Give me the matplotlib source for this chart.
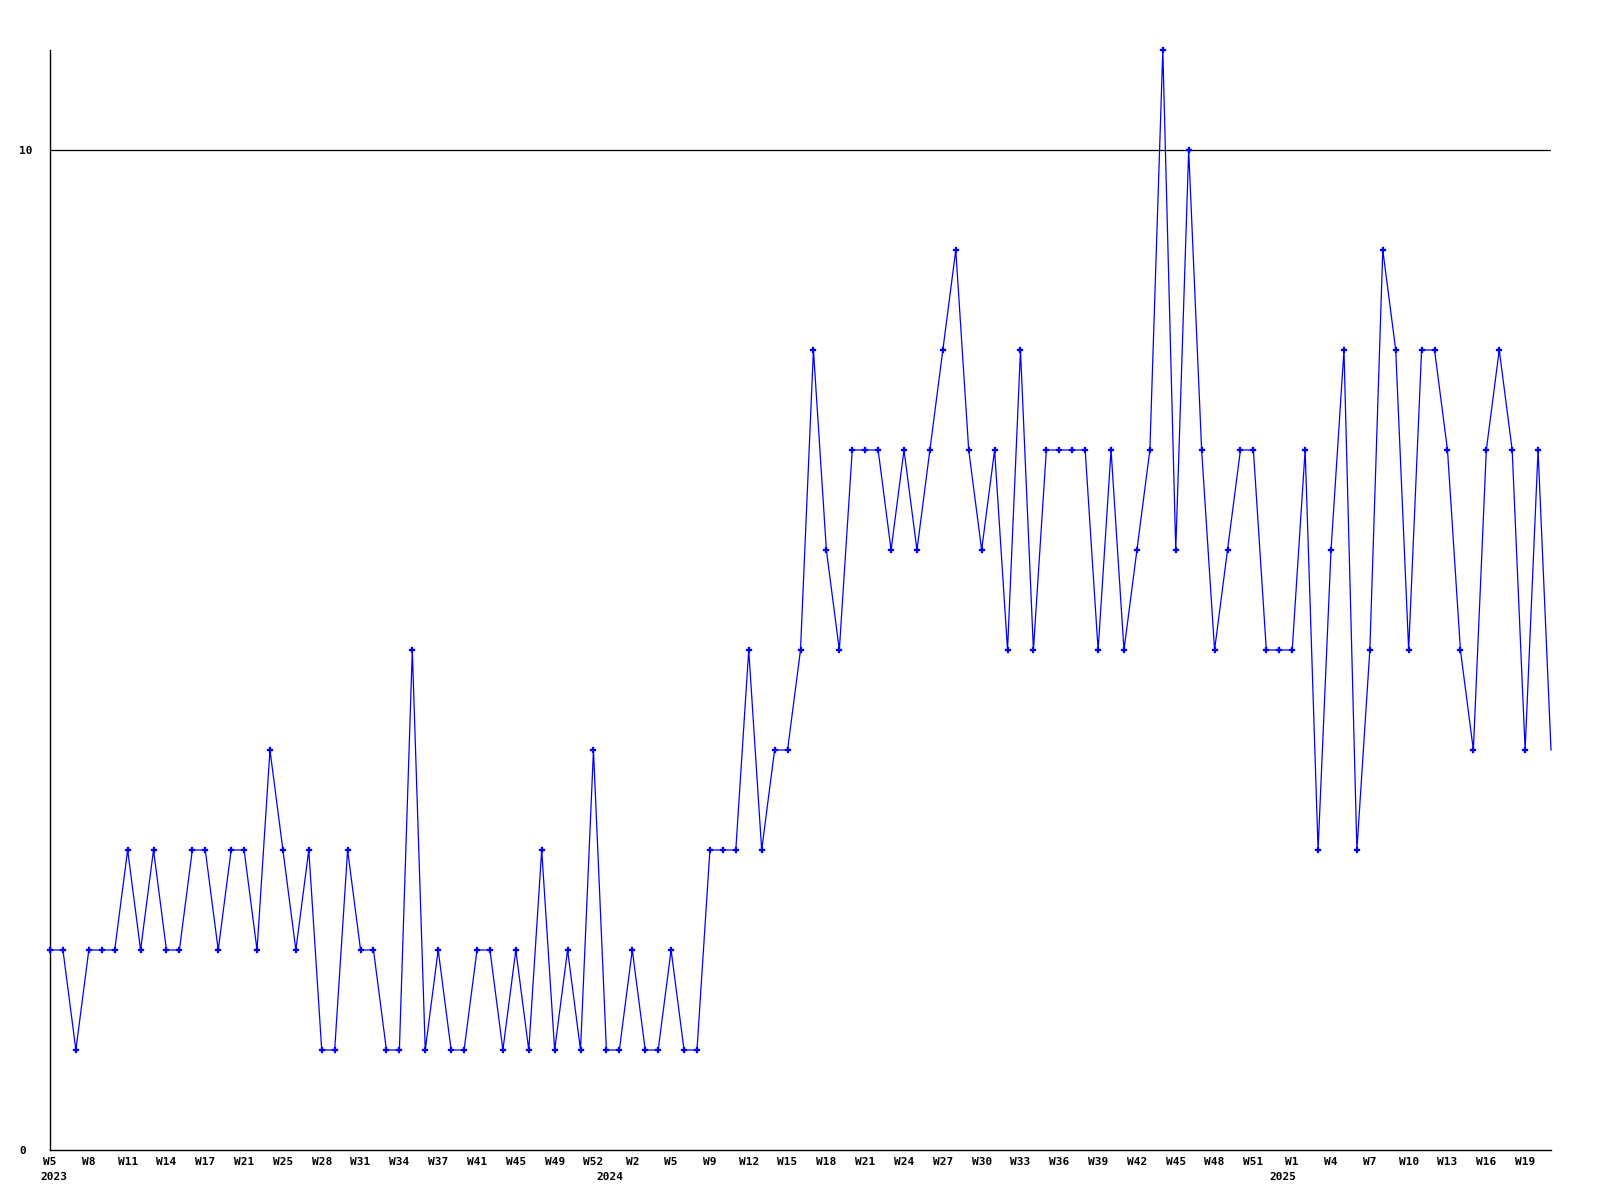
import matplotlib
matplotlib.use("Agg")
import matplotlib.pyplot as plt

# --- data ---------------------------------------------------------------
weeks_2023 = [5, 6, 7, 8, 9, 10, 11, 12, 13, 14, 15, 16, 17, 19, 20, 21, 23, 24,
              25, 26, 27, 28, 29, 30, 31, 32, 33, 34, 35, 36, 37, 39, 40, 41, 43,
              44, 45, 47, 48, 49, 50, 51, 52]
weeks_2024 = [0, 1, 2, 3, 4, 5, 6, 8, 9, 10, 11, 12, 13, 14, 15, 16, 17, 18, 19,
              20, 21, 22, 23, 24, 25, 26, 27, 28, 29, 30, 31, 32, 33, 34, 35, 36,
              37, 38, 39, 40, 41, 42, 43, 44, 45, 46, 47, 48, 49, 50, 51, 52]
weeks_2025 = [0, 1, 2, 3, 4, 5, 6, 7, 8, 9, 10, 11, 12, 13, 14, 15, 16, 17, 18,
              19, 20, 21]
years = ["2023", "2024", "2025"]

values = [2, 2, 1, 2, 2, 2, 3, 2, 3, 2,
          2, 3, 3, 2, 3, 3, 2, 4, 3, 2,
          3, 1, 1, 3, 2, 2, 1, 1, 5, 1,
          2, 1, 1, 2, 2, 1, 2, 1, 3, 1,
          2, 1, 4, 1, 1, 2, 1, 1, 2, 1,
          1, 3, 3, 3, 5, 3, 4, 4, 5, 8,
          6, 5, 7, 7, 7, 6, 7, 6, 7, 8,
          9, 7, 6, 7, 5, 8, 5, 7, 7, 7,
          7, 5, 7, 5, 6, 7, 11, 6, 10, 7,
          5, 6, 7, 7, 5, 5, 5, 7, 3, 6,
          8, 3, 5, 9, 8, 5, 8, 8, 7, 5,
          4, 7, 8, 7, 4, 7, 4]

y_ticks = [0, 10]

# --- build categories ---------------------------------------------------
week_labels = ([f"W{w}" for w in weeks_2023] + [f"W{w}" for w in weeks_2024]
               + [f"W{w}" for w in weeks_2025])
year_starts = [0, len(weeks_2023), len(weeks_2023) + len(weeks_2024)]
x = list(range(len(values)))

# --- figure -------------------------------------------------------------
W, H = 1600, 1200
fig = plt.figure(figsize=(16, 12), dpi=100)
left, right, top, bottom = 50, 1551, 50, 1150
ax = fig.add_axes([left / W, (H - bottom) / H, (right - left) / W, (bottom - top) / H])

font = dict(family="DejaVu Sans Mono", weight="bold", size=8)

ax.axhline(10, color="black", lw=0.9, zorder=1)
ax.plot(x, values, color="#0000ff", lw=0.9, marker="P", ms=3.8,
        mec="#0000ff", mfc="#0000ff", mew=0.2, zorder=3, clip_on=False,
        markevery=list(range(len(values) - 1)))

ax.set_xlim(0, len(values) - 1)
ax.set_ylim(0, 11)

for s in ["top", "right"]:
    ax.spines[s].set_visible(False)
for s in ["left", "bottom"]:
    ax.spines[s].set_linewidth(1.0)
    ax.spines[s].set_color("black")

tick_pos = x[::3]
ax.set_xticks(tick_pos)
ax.set_xticklabels([week_labels[i] for i in tick_pos], **font)
ax.tick_params(axis="x", length=0, pad=5)

ax.set_yticks(y_ticks)
ax.set_yticklabels([str(v) for v in y_ticks], **font, ha="left")
ax.tick_params(axis="y", length=0, pad=22)

for yr, idx in zip(years, year_starts):
    ax.annotate(yr, xy=(idx, 0), xycoords=("data", "axes fraction"),
                xytext=(-10, -27), textcoords="offset pixels",
                ha="left", va="center", annotation_clip=False, **font)

fig.savefig("out.png", dpi=100, facecolor="white")
